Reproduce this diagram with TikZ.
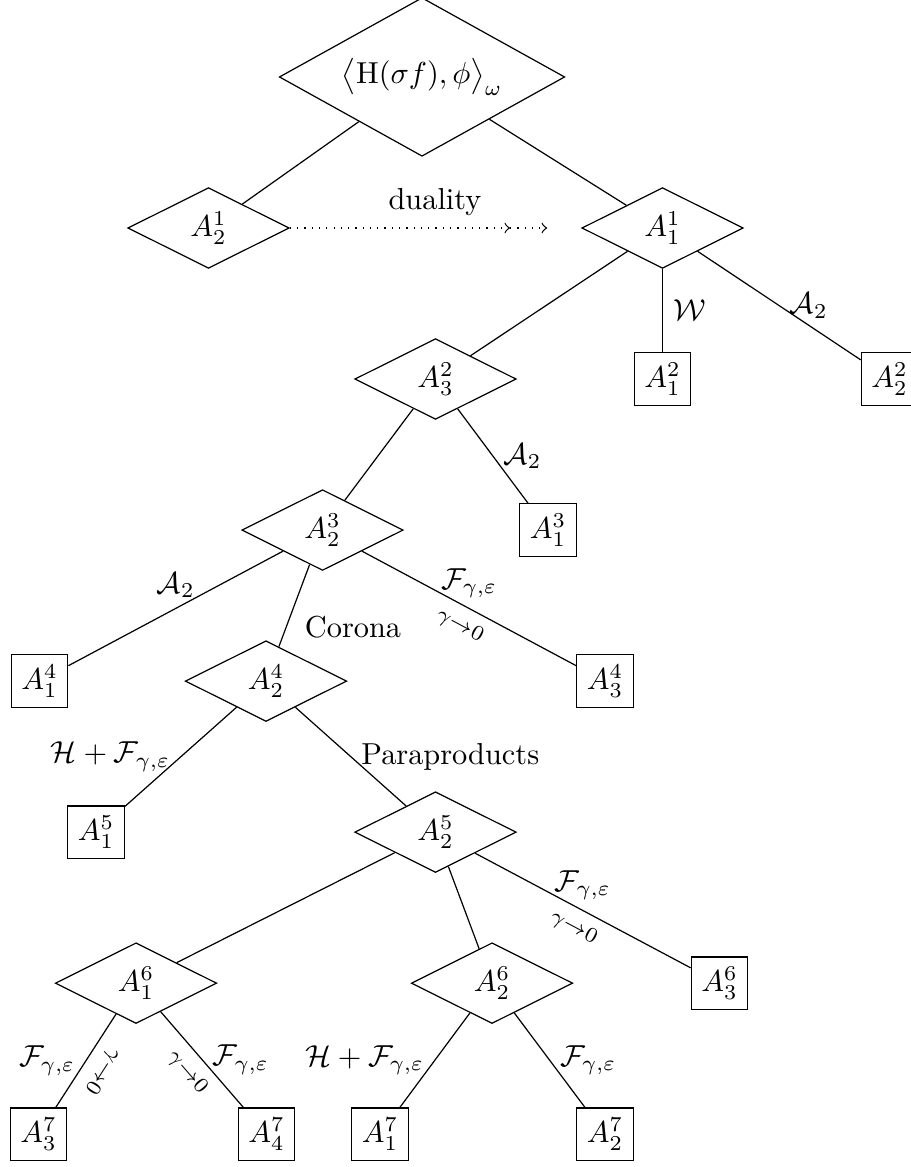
\documentclass[tikz,border=0pt]{standalone}
\usepackage{amsmath}
\usepackage{amssymb}
\usetikzlibrary{shapes.geometric}

\begin{document}
\begin{tikzpicture}[
    dia/.style={diamond, draw, aspect=2},
    leaf/.style={rectangle, draw},
    lim/.style={sloped}
  ]
  \useasboundingbox (0, -0.38) rectangle (10.545, 13.142);

  \node[dia, aspect=1.8] (top) at (4.89, 12.25) {$\bigl\langle \mathrm{H}(\sigma f), \phi \bigr\rangle_{\omega}$};
  \node[dia] (A21) at (2.416, 10.5) {$A_2^1$};
  \node[dia] (A11) at (7.677, 10.5) {$A_1^1$};
  \node[leaf] (A12) at (7.677, 8.75) {$A_1^2$};
  \node[leaf] (A22) at (10.307, 8.75) {$A_2^2$};
  \node[dia] (A32) at (5.046, 8.75) {$A_3^2$};
  \node[dia] (A23) at (3.737, 7) {$A_2^3$};
  \node[leaf] (A13) at (6.35, 7) {$A_1^3$};
  \node[leaf] (A14) at (0.458, 5.25) {$A_1^4$};
  \node[dia] (A24) at (3.082, 5.25) {$A_2^4$};
  \node[leaf] (A34) at (7.01, 5.25) {$A_3^4$};
  \node[leaf] (A15) at (1.112, 3.5) {$A_1^5$};
  \node[dia] (A25) at (5.046, 3.5) {$A_2^5$};
  \node[dia] (A16) at (1.576, 1.75) {$A_1^6$};
  \node[dia] (A26) at (5.701, 1.75) {$A_2^6$};
  \node[leaf] (A36) at (8.337, 1.75) {$A_3^6$};
  \node[leaf] (A37) at (0.446, 0) {$A_3^7$};
  \node[leaf] (A47) at (3.088, 0) {$A_4^7$};
  \node[leaf] (A17) at (4.403, 0) {$A_1^7$};
  \node[leaf] (A27) at (7.01, 0) {$A_2^7$};

  \coordinate (dmid) at (5.91, 10.5);
  \coordinate (dend) at (6.34, 10.5);
  \draw[dotted, ->] (A21) -- (dmid);
  \draw[dotted, ->] (dmid) -- (dend);
  \node (dual) at (5.04, 10.8) {duality};

  \draw (top) -- (A21);
  \draw (top) -- (A11);
  \draw (A11) -- (A32);
  \draw (A11) -- node[right] {$\mathcal{W}$} (A12);
  \draw (A11) -- node[right] {$\mathcal{A}_2$} (A22);
  \draw (A32) -- (A23);
  \draw (A32) -- node[right] {$\mathcal{A}_2$} (A13);
  \draw (A23) -- node[above] {$\mathcal{A}_2$} (A14);
  \draw (A23) -- node[below right] {Corona} (A24);
  \draw (A23) -- node[above] {$\mathcal{F}_{\gamma,\varepsilon}$} node[lim, below] {$\scriptstyle\gamma\to 0$} (A34);
  \draw (A24) -- node[left] {$\mathcal{H}+\mathcal{F}_{\gamma,\varepsilon}$} (A15);
  \draw (A24) -- node[right] {Paraproducts} (A25);
  \draw (A25) -- (A16);
  \draw (A25) -- (A26);
  \draw (A25) -- node[above] {$\mathcal{F}_{\gamma,\varepsilon}$} node[lim, below] {$\scriptstyle\gamma\to 0$} (A36);
  \draw (A16) -- node[left] {$\mathcal{F}_{\gamma,\varepsilon}$} node[lim, allow upside down, above] {$\scriptstyle\gamma\to 0$} (A37);
  \draw (A16) -- node[right] {$\mathcal{F}_{\gamma,\varepsilon}$} node[lim, below] {$\scriptstyle\gamma\to 0$} (A47);
  \draw (A26) -- node[left] {$\mathcal{H}+\mathcal{F}_{\gamma,\varepsilon}$} (A17);
  \draw (A26) -- node[right] {$\mathcal{F}_{\gamma,\varepsilon}$} (A27);
\end{tikzpicture}
\end{document}
